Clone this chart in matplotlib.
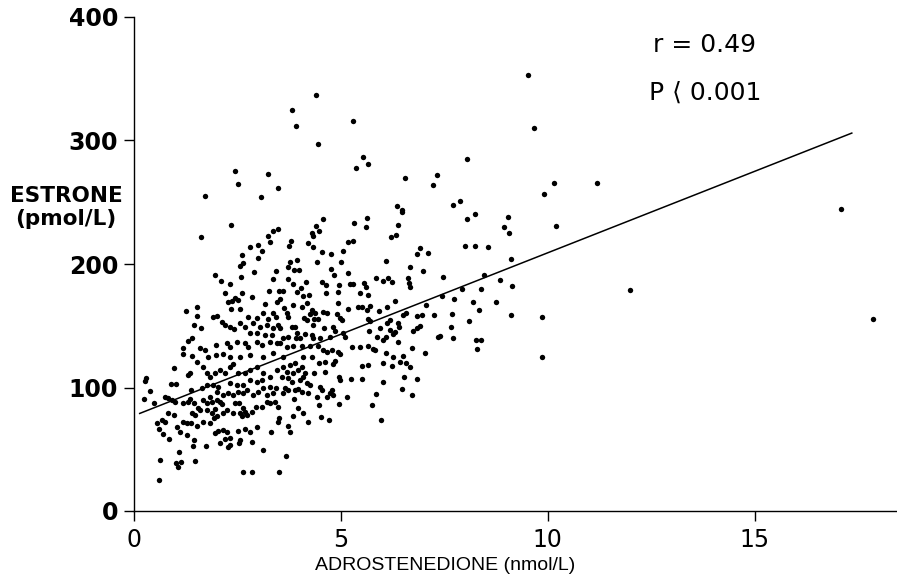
import matplotlib
matplotlib.use("Agg")
import matplotlib.pyplot as plt
import numpy as np

# ---- data ----
upper_x = [2.46, 3.24, 2.52, 3.48, 1.73, 3.07, 4.42, 3.84, 3.92, 5.31, 4.46, 5.54, 5.66, 5.37, 6.56, 6.36, 6.49,
           9.52, 9.67, 8.06, 7.34, 7.23, 10.16, 9.92, 7.89, 7.71, 11.2, 12.0, 17.1, 17.87]
upper_y = [275, 273, 265, 261.5, 255, 254.5, 337, 325, 312, 316, 297, 287, 281, 277.5, 269.6, 246.7, 244,
           352.8, 310, 284.8, 271.8, 263.7, 265.6, 257, 250.8, 247.5, 265.8, 178.7, 244.8, 155.5]

left_mid_x = [2.35, 1.62, 3.48, 3.38, 3.26, 3.30, 3.01, 2.81, 3.10, 2.63, 3.01, 2.64, 2.57, 2.92, 3.43, 1.98, 2.11,
              2.34, 2.59, 3.36, 3.27, 3.51, 2.20, 2.61, 2.87, 2.46, 2.52, 2.37, 2.28, 3.17, 3.46, 1.53, 2.35, 2.58,
              1.26, 3.14, 3.38, 1.53, 1.93, 2.02, 2.77, 2.98, 3.26, 3.43, 2.13, 2.21, 2.33, 2.43, 2.57, 2.69, 2.89,
              3.06, 3.22, 3.38, 3.50, 1.46, 1.63, 2.81, 2.98, 3.18, 3.34, 1.41, 1.32, 1.99, 2.25, 2.33, 2.49, 2.69,
              2.77, 2.98, 3.10, 3.30, 3.46, 1.19, 1.20, 1.41, 1.61, 1.73, 1.81, 1.99, 2.17, 2.33, 2.57, 2.81, 3.14,
              3.38]
left_mid_y = [231.3, 221.9, 228, 226.7, 223, 218, 215.4, 213.5, 210.8, 207.3, 204.6, 200.6, 198.4, 193.8, 194.3,
              190.8, 186.5, 183.8, 189.2, 187.9, 178.4, 178.4, 176.3, 176.5, 173.3, 172.7, 170.9, 169.8, 169.5,
              167.6, 169.5, 165.4, 163.8, 163.3, 161.7, 160, 160.6, 158.1, 156.8, 157.9, 157.3, 156, 155.5, 157.3,
              153.3, 150.6, 148.7, 147.1, 152, 148.7, 152, 149.2, 150.6, 147.9, 150.6, 150.6, 147.9, 143.9, 143.9,
              142.5, 142.5, 139.8, 137.7, 134.4, 135.8, 133, 137.1, 135.8, 133, 137.1, 134.4, 137.1, 135.8, 132.2,
              127.1, 125.7, 131.7, 130.4, 125, 126, 127, 125, 125, 126, 125, 128]

center_x = [4.57, 5.65, 5.62, 6.49, 5.33, 4.40, 4.48, 4.30, 4.33, 6.39, 6.33, 6.21, 5.31, 5.19, 3.80, 3.76, 4.22,
            4.34, 5.07, 4.55, 4.77, 6.91, 6.85, 7.11, 3.78, 3.94, 4.44, 5.00, 6.10, 6.68, 7.00, 3.74, 3.88, 4.00,
            4.77, 4.84, 5.19, 5.86, 6.15, 6.24, 6.64, 6.66, 6.68, 6.02, 3.72, 3.86, 4.17, 4.55, 4.65, 4.97, 5.23,
            5.31, 5.57, 5.62, 3.60, 4.05, 3.96, 4.65, 4.95, 5.47, 5.67, 4.09, 4.25, 3.54, 6.32, 4.95, 4.18, 3.86,
            4.06, 5.71, 5.63, 5.43, 5.51, 6.12, 5.92, 5.19, 7.07, 3.64, 3.70, 3.74, 4.30, 4.38, 4.58, 4.67, 4.91,
            4.99, 5.03, 5.67, 5.71, 6.58, 6.52, 6.84, 6.98, 4.13, 4.18, 4.26, 4.37, 4.45, 6.20, 6.12, 6.40, 6.42,
            6.92, 6.84, 6.76, 4.34, 3.82, 3.90, 3.54, 4.61, 4.83, 4.87, 5.69, 5.95, 6.20, 6.32, 6.28, 3.94, 4.14,
            4.30, 4.33, 3.74, 3.93, 4.01, 4.50, 4.75, 5.07, 5.11, 5.87, 6.10, 6.03, 6.40, 3.62, 3.54, 3.70, 3.86,
            4.06, 4.26, 4.46, 4.58, 4.67, 4.79, 4.95, 4.99, 5.27, 5.47, 5.67, 5.79, 5.83, 6.10, 6.28, 6.52, 6.72,
            7.04, 3.62, 4.10, 4.30]
center_y = [236.2, 237, 229.7, 242.4, 233.4, 230.8, 227, 225.3, 222.7, 231.8, 223.7, 222.1, 218.6, 217.6, 218.6,
            214.6, 216.8, 214, 210.5, 210, 208.3, 212.7, 208.3, 208.7, 201.9, 203.2, 201.4, 201.9, 202.4, 197.3,
            194.6, 197.3, 195.1, 195.1, 195.7, 190.8, 192.5, 188.4, 188.4, 185.7, 188.4, 184.4, 181.1, 186.5,
            187.6, 183.8, 185.7, 185.7, 183, 183, 183.8, 183.8, 184.4, 181.1, 178.1, 180.3, 177.6, 176.8, 177.3,
            176.3, 174.9, 174.1, 174.7, 171.4, 170.3, 168.2, 168.2, 166.8, 165.4, 166, 162.8, 164.9, 165.4, 164.9,
            161.9, 163.6, 166.8, 164.1, 160.1, 156.8, 162.8, 160.6, 161.4, 160.1, 159.5, 156, 154.7, 155.2, 153.8,
            160.1, 158.7, 157.9, 158.5, 156.5, 154.7, 159.5, 155.5, 155.7, 154.7, 152, 152, 149.2, 150, 147.9,
            146, 150.6, 149.2, 148.7, 147.9, 147.9, 148.7, 146, 146, 147.9, 146.6, 145.2, 143.3, 143.9, 143.3,
            142.5, 139.8, 141.1, 139.8, 139.8, 139.8, 141.1, 144.4, 140.6, 141.1, 140.6, 138.5, 137.1, 139.8,
            135.8, 133, 134, 134, 134, 134, 130.4, 129, 130.4, 129, 127.1, 133, 133, 133.6, 130.9, 130.4, 128.2,
            124.9, 125.5, 131.7, 127.7, 125, 125, 125]

right_x = [8.25, 8.06, 9.05, 8.95, 9.08, 10.21, 8.00, 8.26, 8.56, 9.13, 7.48, 8.47, 8.85, 8.39, 9.14, 7.45, 7.93,
           7.75, 8.19, 8.76, 8.35, 7.26, 7.70, 9.13, 9.87, 8.11, 7.67, 7.36, 7.41, 7.71, 8.27, 8.39, 8.30, 9.87]
right_y = [240.2, 236.2, 238.3, 230.2, 224.8, 230.5, 214.6, 214.6, 214, 203.8, 189.7, 190.8, 186.8, 179.5, 181.9,
           174.3, 179.5, 171.9, 169, 169, 163, 158.7, 159.5, 159, 157.1, 153.8, 149, 141.1, 141.7, 140.1, 138.5,
           138.5, 131.2, 124.5]

low_left_x = [0.29, 0.28, 0.40, 0.25, 0.50, 0.99, 0.90, 1.03, 1.32, 1.36, 0.76, 0.84, 0.92, 1.00, 1.20, 1.39, 0.84,
              0.99, 0.56, 0.70, 0.76, 0.61, 0.72, 0.86, 1.06, 1.12, 1.20, 1.29, 1.39, 1.30, 1.47, 1.44, 1.10, 1.75,
              0.65, 1.03, 1.08, 1.15, 1.49, 0.62, 2.65, 2.86, 3.51, 1.53, 1.67, 1.85, 1.94, 1.41, 1.49, 1.61, 1.77,
              1.89, 1.97, 1.31, 1.36, 1.47, 1.57, 1.69, 1.77, 1.85, 1.89, 2.01, 2.01, 2.09, 2.13, 1.97, 2.05, 2.17,
              2.25, 2.21, 2.33, 2.33, 2.29, 2.09, 2.53, 2.57, 2.55, 2.69, 2.81, 2.86, 2.98, 3.12, 3.31, 3.52, 3.50,
              2.01, 2.17, 2.25, 2.41, 2.57, 2.61, 2.69, 2.45, 2.56, 2.65, 2.73, 2.86, 2.96, 3.10, 3.22, 3.30, 3.42,
              3.50, 2.89, 3.01, 3.14, 3.22, 3.38, 2.17, 2.29, 2.41, 2.53, 2.65, 2.73,
              1.53, 1.69, 1.77, 1.85, 1.97, 2.09, 2.21, 2.33, 2.41, 2.53, 2.69, 2.81, 2.98, 3.14, 3.30, 3.46, 1.93,
              2.05, 2.33, 2.49, 2.65, 2.81, 2.98, 3.10, 3.30, 3.43, 1.77, 1.65]
low_left_y = [107.4, 105.3, 97.4, 90.4, 87.2, 115.8, 102.8, 102.8, 110.1, 112, 92.6, 91.3, 89.9, 88.5, 87.2, 98,
              79.6, 77.7, 71.5, 73.7, 72.3, 66.2, 62.3, 58.3, 68.3, 64.2, 72.3, 71, 71, 61.5, 57.5, 52.6, 48, 52.6,
              41.3, 38.6, 35.4, 39.9, 40.7, 25.1, 31.3, 31.3, 31.3, 69.1, 72.3, 71.5, 75.1, 79.1, 77.7, 81.8, 81.8,
              79.1, 82.3, 88.5, 90.4, 87.2, 83.2, 89.9, 87.2, 92.6, 88.5, 89.9, 96.6, 88.5, 86.4, 62.9, 64.8, 65.6,
              64.2, 58, 58.9, 53.4, 52.1, 54.8, 64.8, 57.5, 55.3, 66.2, 64.2, 56.1, 68.3, 49.4, 64.2, 75.1, 72.3,
              76.9, 79.1, 81.8, 79.1, 79.1, 76.9, 80.4, 87.2, 87.2, 83.2, 77.7, 80.4, 84.5, 84.5, 88.5, 87.2, 88.5,
              84.5, 93.9, 96.6, 99.4, 93.9, 95.3, 93.9, 95.3, 93.9, 96.6, 95.3, 98,
              120.9, 116.8, 111.5, 108.8, 111.5, 114.2, 111.5, 116.8, 119, 111.5, 111.5, 114.2, 116.8, 111.5, 108.8,
              114.2, 102, 100.5, 104, 102, 102, 106, 104.5, 106, 100.5, 99.3, 102, 99.3]

low_mid_x = [4.49, 4.63, 4.83, 4.87, 5.53, 5.67, 6.02, 6.24, 6.44, 6.58, 6.68, 4.36, 4.63, 4.97, 4.99, 5.25, 5.53,
             6.02, 6.53, 6.84, 6.49, 6.73, 5.86, 5.76, 5.97, 5.15, 4.97, 4.75, 4.83, 4.79, 4.67, 4.50, 4.55, 4.43,
             4.48, 4.22, 4.18, 4.26, 3.98, 4.06, 3.90, 3.74, 3.62, 3.88, 3.98, 4.09, 3.85, 4.52, 4.72, 4.21, 3.74,
             3.79, 3.68, 3.62, 3.70, 3.78, 3.86, 3.58, 3.74, 3.90, 3.98, 4.06, 4.14, 4.10, 4.02, 3.82, 3.66]
low_mid_y = [120, 121, 119, 121.5, 117.4, 118.2, 120.1, 117.4, 120.9, 119.6, 116.8, 111.5, 112.8, 108.8, 106,
             106.9, 106.6, 104.7, 108.3, 106.9, 98.5, 93.9, 94.5, 86.1, 73.4, 92.1, 86.6, 95.3, 93.9, 98, 92.6,
             100.6, 98, 92.6, 85.8, 95.3, 103.4, 102, 98.5, 96.6, 98, 98, 95.3, 90.4, 83.2, 79.6, 77.2, 76.4, 73.4,
             72.1, 68.8, 64.2, 44.5, 116.8, 112.8, 118.2, 111.5, 108.8, 107.4, 119.6, 114.2, 116.8, 111.5, 108.8,
             106, 104.7, 99.3]

fit_x = [0.15, 17.35]
fit_y = [79, 306]

x_ticks = [0, 5, 10, 15]
y_ticks = [0, 100, 200, 300, 400]

all_x = np.concatenate([upper_x, left_mid_x, center_x, right_x, low_left_x, low_mid_x])
all_y = np.concatenate([upper_y, left_mid_y, center_y, right_y, low_left_y, low_mid_y])

# ---- figure ----
W, H = 897, 584
fig = plt.figure(figsize=(W / 100, H / 100), dpi=100)
left_px, right_px, top_px, bottom_px = 133.5, 897, 17, 511
ax = fig.add_axes([left_px / W, 1 - bottom_px / H, (right_px - left_px) / W, (bottom_px - top_px) / H])

ax.scatter(all_x, all_y, s=15, c="black", linewidths=0, zorder=3)
ax.plot(fit_x, fit_y, color="black", lw=1.1, zorder=2)

ax.set_xlim(0, (right_px - left_px) / 41.4)
ax.set_ylim(0, 400)
ax.set_xticks(x_ticks)
ax.set_yticks(y_ticks)
for s in ["top", "right"]:
    ax.spines[s].set_visible(False)
for s in ["left", "bottom"]:
    ax.spines[s].set_linewidth(1.0)
ax.tick_params(axis="both", direction="out", length=7, width=1.0, colors="black")
ax.tick_params(axis="y", pad=4)
ax.tick_params(axis="x", pad=5)
for lab in ax.get_yticklabels():
    lab.set_fontfamily("DejaVu Sans")
    lab.set_fontsize(17)
    lab.set_fontweight("bold")
for lab in ax.get_xticklabels():
    lab.set_fontfamily("DejaVu Sans")
    lab.set_fontsize(17)

ax.text(12.55, 377, "r = 0.49", fontsize=18, family="DejaVu Sans", va="center", ha="left")
ax.text(12.45, 338.5, "P \u27e8 0.001", fontsize=18, family="DejaVu Sans", va="center", ha="left")

fig.text(66 / W, 1 - 196 / H, "ESTRONE", ha="center", va="center", fontsize=15.5,
         family="DejaVu Sans", fontweight="bold")
fig.text(66 / W, 1 - 219 / H, "(pmol/L)", ha="center", va="center", fontsize=15.5,
         family="DejaVu Sans", fontweight="bold")
fig.text(445 / W, 1 - 566 / H, "ADROSTENEDIONE (nmol/L)", ha="center", va="center", fontsize=14,
         family="Liberation Sans")

fig.savefig("out.png", dpi=100)
